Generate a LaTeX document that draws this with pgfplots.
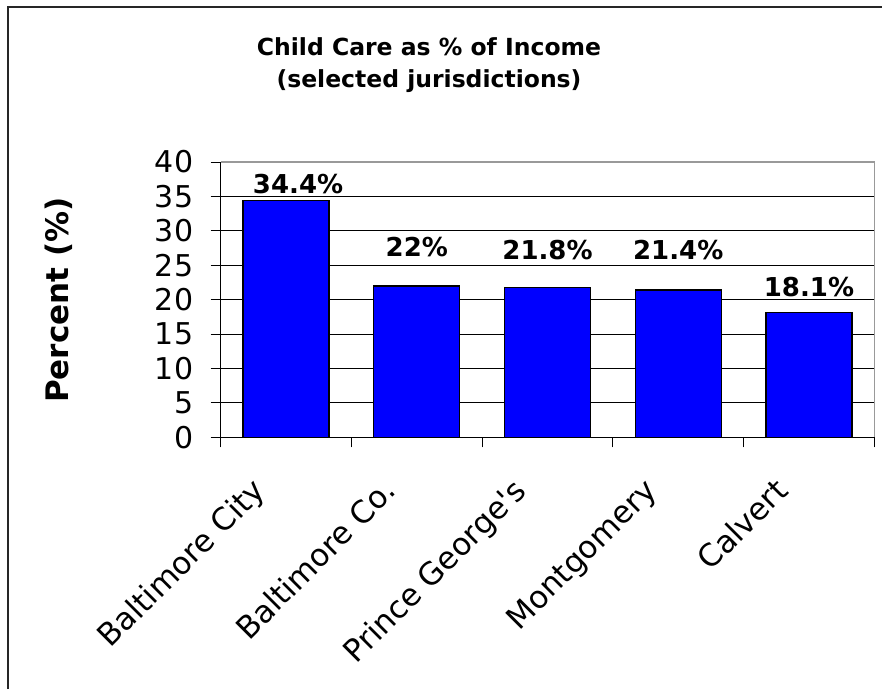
\documentclass[border=0pt]{standalone}
\usepackage{fontspec}
\setmainfont{DejaVu Sans}
\newfontfamily\labelfont{DejaVu Sans}
\usepackage{pgfplots}
\usepackage{pgfplotstable}
\pgfplotsset{compat=1.18}
\pgfplotstableread{
x y dx dy lab
0 34.4 12 17 34.4
1 22.0 0 39 22
2 21.8 0 37 21.8
3 21.4 0 40 21.4
4 18.1 0 26 18.1
}\datatable
\definecolor{barblue}{RGB}{0,0,255}
\begin{document}
\begin{tikzpicture}[x=1pt,y=1pt]
\useasboundingbox (0,0) rectangle (882,689);
\draw[line width=1.6pt,black!85] (8,0) -- (8,682) -- (882,682);
\node[font=\bfseries\fontsize{23.5}{32}\selectfont,align=center] at (429,624) {Child Care as \% of Income\\(selected jurisdictions)};
\node[font=\bfseries\fontsize{31}{36}\selectfont,rotate=90] at (59,389) {Percent (\%)};
\begin{axis}[
  at={(220.7pt,251.7pt)}, anchor=south west,
  scale only axis, width=653.6pt, height=275.3pt,
  xmin=-0.5, xmax=4.5, ymin=0, ymax=40,
  axis lines=left, axis line style={-, black, line width=1pt},
  ytick={0,5,...,40},
  ymajorgrids, grid style={black, line width=0.9pt},
  xtick={0,1,2,3,4},
  xticklabels={Baltimore City, Baltimore Co., Prince George's, Montgomery, Calvert},
  major x tick style={draw=none},
  minor xtick={-0.5,0.5,1.5,2.5,3.5,4.5},
  minor x tick style={black, line width=0.9pt},
  major y tick style={black, line width=0.9pt},
  tick align=outside,
  major tick length=10pt, minor tick length=10pt,
  yticklabel style={font=\fontsize{30}{34}\selectfont, /pgf/number format/assume math mode=true, xshift=-14pt},
  xticklabel style={font=\labelfont\fontsize{31}{36}\selectfont, xshift=-36pt, yshift=-24pt, rotate=45, anchor=north east},
  clip=false,
]
\addplot[ybar, bar width=86pt, fill=barblue, draw=black, line width=1.3pt,
  point meta=explicit symbolic,
  visualization depends on={\thisrow{dx}\as\dx},
  visualization depends on={\thisrow{dy}\as\dy},
  nodes near coords={\pgfplotspointmeta\%},
  nodes near coords style={anchor=center, font=\bfseries\fontsize{26}{30}\selectfont, xshift=\dx pt, yshift=\dy pt}
] table[x=x, y=y, meta=lab] {\datatable};
\draw[gray!80, line width=1.2pt] (rel axis cs:0,1) -- (rel axis cs:1,1) -- (rel axis cs:1,0);
\end{axis}
\end{tikzpicture}
\end{document}
